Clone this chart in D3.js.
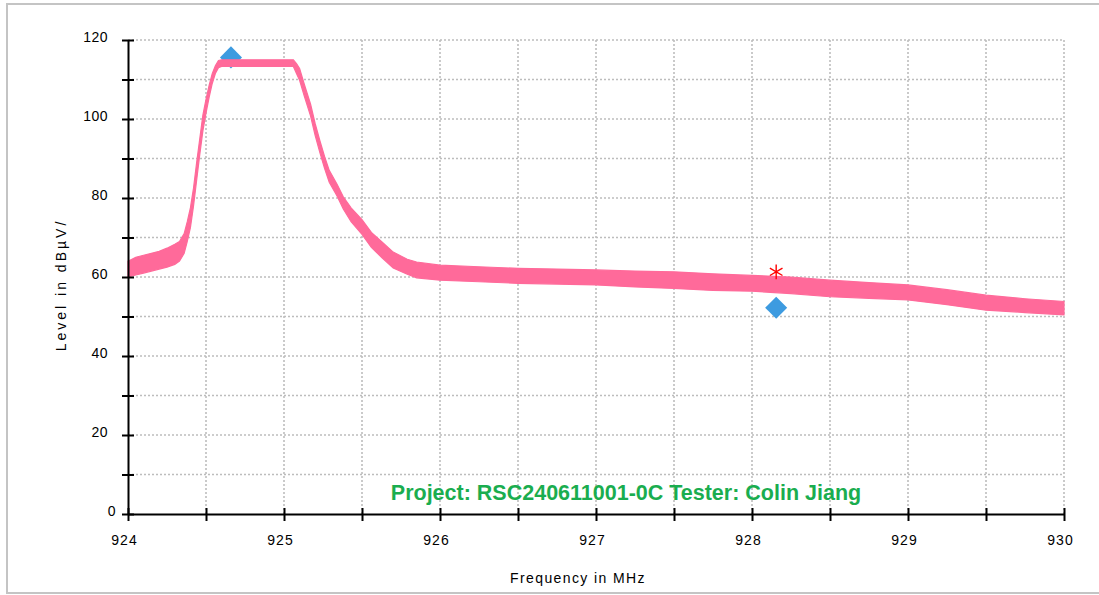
<!DOCTYPE html>
<html><head><meta charset="utf-8">
<script src="https://cdn.jsdelivr.net/npm/d3@7"></script>
<style>body{margin:0;background:#fff}svg{display:block}</style>
</head><body><svg id="c" width="1099" height="595"></svg>
<script>
// Trace envelope (MHz, dBµV lower / upper edge of the noisy band)
const freqs = [924.00,924.05,924.10,924.15,924.20,924.25,924.30,924.33,924.36,924.38,924.40,924.42,924.44,924.46,924.48,924.50,924.52,924.54,924.56,924.58,924.60,924.80,925.00,925.06,925.08,925.10,925.13,925.17,925.20,925.23,925.26,925.29,925.34,925.38,925.43,925.50,925.56,925.63,925.70,925.79,925.85,926.00,926.25,926.50,926.75,927.00,927.25,927.50,927.75,928.00,928.25,928.50,928.75,929.00,929.25,929.50,929.75,930.00];
const levelLow = [60.0,60.5,61.0,61.5,62.0,62.5,63.2,64.0,66.0,69.0,72.5,78.0,84.5,91.0,97.0,101.5,105.5,109.0,111.5,113.0,113.3,113.3,113.3,113.3,111.5,109.8,105.8,100.8,95.8,91.5,87.5,84.0,80.5,77.2,74.0,70.8,67.5,64.8,62.3,60.7,59.8,59.2,58.8,58.4,58.2,58.0,57.5,57.1,56.6,56.4,55.8,55.0,54.6,54.2,53.0,51.6,51.0,50.4];
const levelHigh = [64.0,65.0,65.5,66.0,66.5,67.3,68.3,69.0,71.0,74.0,77.5,82.5,89.0,95.0,101.0,105.0,108.5,111.5,113.5,114.8,115.0,115.0,115.0,115.0,114.0,112.8,108.8,103.8,98.8,94.5,90.5,87.0,83.5,80.3,77.5,74.5,71.3,68.8,66.3,64.5,63.8,63.0,62.6,62.2,62.0,61.8,61.5,61.3,60.8,60.4,60.0,59.2,58.6,58.0,56.8,55.4,54.5,53.8];

const xTickValues = [924,924.5,925,925.5,926,926.5,927,927.5,928,928.5,929,929.5,930];
const xTickLabels = [924,925,926,927,928,929,930];
const yTickValues = [0,10,20,30,40,50,60,70,80,90,100,110,120];
const yTickLabels = [0,20,40,60,80,100,120];

const diamondFreqs = [924.66, 928.155];
const diamondLevels = [115.6, 52.2];
const peakFreqs = [928.155];
const peakLevels = [61.3];

const titleText = "Project: RSC240611001-0C Tester: Colin Jiang";
const xTitle = "Frequency in MHz";
const yTitle = "Level in dBµV/";

const svg = d3.select("#c");
const font = "'Liberation Sans', Arial, sans-serif";

// outer frame
svg.append("rect").attr("x",7).attr("y",4).attr("width",1100).attr("height",589)
  .attr("fill","none").attr("stroke","#c4c4c4").attr("stroke-width",2);

const x = d3.scaleLinear().domain([924,930]).range([128,1064]);
const y = d3.scaleLinear().domain([0,120]).range([514,40]);

// grid
const grid = svg.append("g").attr("stroke","#bdbdbd").attr("stroke-width",1.6).attr("stroke-dasharray","2,2");
grid.selectAll("line.h").data(yTickValues.filter(d=>d>0)).join("line")
  .attr("x1",x(924)).attr("x2",x(930)).attr("y1",d=>y(d)).attr("y2",d=>y(d));
grid.selectAll("line.v").data(xTickValues.filter(d=>d>924)).join("line").attr("class","v")
  .attr("y1",y(0)).attr("y2",y(120)).attr("x1",d=>x(d)).attr("x2",d=>x(d));

// markers (diamonds beneath trace)
const diamond = d3.symbol().type(d3.symbolDiamond2).size(310);
svg.selectAll("path.dia").data(diamondFreqs.map((f,i)=>[f,diamondLevels[i]])).join("path")
  .attr("class","dia").attr("d",diamond)
  .attr("transform",d=>`translate(${x(d[0])},${y(d[1])})`)
  .attr("fill","#3d9be0");

// trace
const band = freqs.map((f,i)=>({f, lo:levelLow[i], hi:levelHigh[i]}));
svg.append("path").datum(band)
  .attr("d", d3.area().x(d=>x(d.f)).y0(d=>y(d.lo)).y1(d=>y(d.hi)))
  .attr("fill","#ff6a9a").attr("stroke","#ff6a9a").attr("stroke-width",1.2);

// peak marker asterisk
const ast = d3.symbol().type(d3.symbolAsterisk).size(150);
svg.selectAll("path.ast").data(peakFreqs.map((f,i)=>[f,peakLevels[i]])).join("path")
  .attr("class","ast").attr("d",ast)
  .attr("transform",d=>`translate(${x(d[0])},${y(d[1])})`)
  .attr("fill","none").attr("stroke","#ff0000").attr("stroke-width",1.4);

// axes
const yAxis = d3.axisLeft(y).tickValues(yTickValues).tickSizeInner(6).tickSizeOuter(0).tickPadding(14)
  .tickFormat(d => yTickLabels.includes(d) ? String(d) : "");
const gy = svg.append("g").attr("transform",`translate(${x(924)},0)`).call(yAxis);
gy.select(".domain").attr("stroke","#000").attr("stroke-width",2);
gy.selectAll(".tick line").attr("x1",6).attr("stroke","#000").attr("stroke-width",2);
gy.selectAll(".tick text").attr("font-family",font).attr("font-size",14).attr("fill","#000")
  .attr("letter-spacing","0.5px")
  .attr("dy","0.32em").attr("y",-3)
  .attr("x",d=> d===0 ? -12 : -20);

const xAxis = d3.axisBottom(x).tickValues(xTickValues).tickSizeInner(7).tickSizeOuter(0)
  .tickFormat(d => xTickLabels.includes(d) ? String(d) : "");
const gx = svg.append("g").attr("transform",`translate(0,${y(0)})`).call(xAxis);
gx.select(".domain").attr("stroke","#000").attr("stroke-width",2);
gx.selectAll(".tick line").attr("y1",-6).attr("stroke","#000").attr("stroke-width",2);
gx.selectAll(".tick text").attr("font-family",font).attr("font-size",14).attr("fill","#000")
  .attr("letter-spacing","1px").attr("y",21).attr("dx",-4);

// titles
svg.append("text").attr("x",578).attr("y",583).attr("text-anchor","middle")
  .attr("font-family",font).attr("font-size",14).attr("letter-spacing","1.4px").text(xTitle);
svg.append("text").attr("transform","translate(66,285) rotate(-90)").attr("text-anchor","middle")
  .attr("font-family",font).attr("font-size",14).attr("letter-spacing","3px").text(yTitle);
svg.append("text").attr("x",626).attr("y",500).attr("text-anchor","middle")
  .attr("font-family",font).attr("font-size",21.5).attr("font-weight","bold").attr("fill","#1aad4f")
  .text(titleText);
</script></body></html>
